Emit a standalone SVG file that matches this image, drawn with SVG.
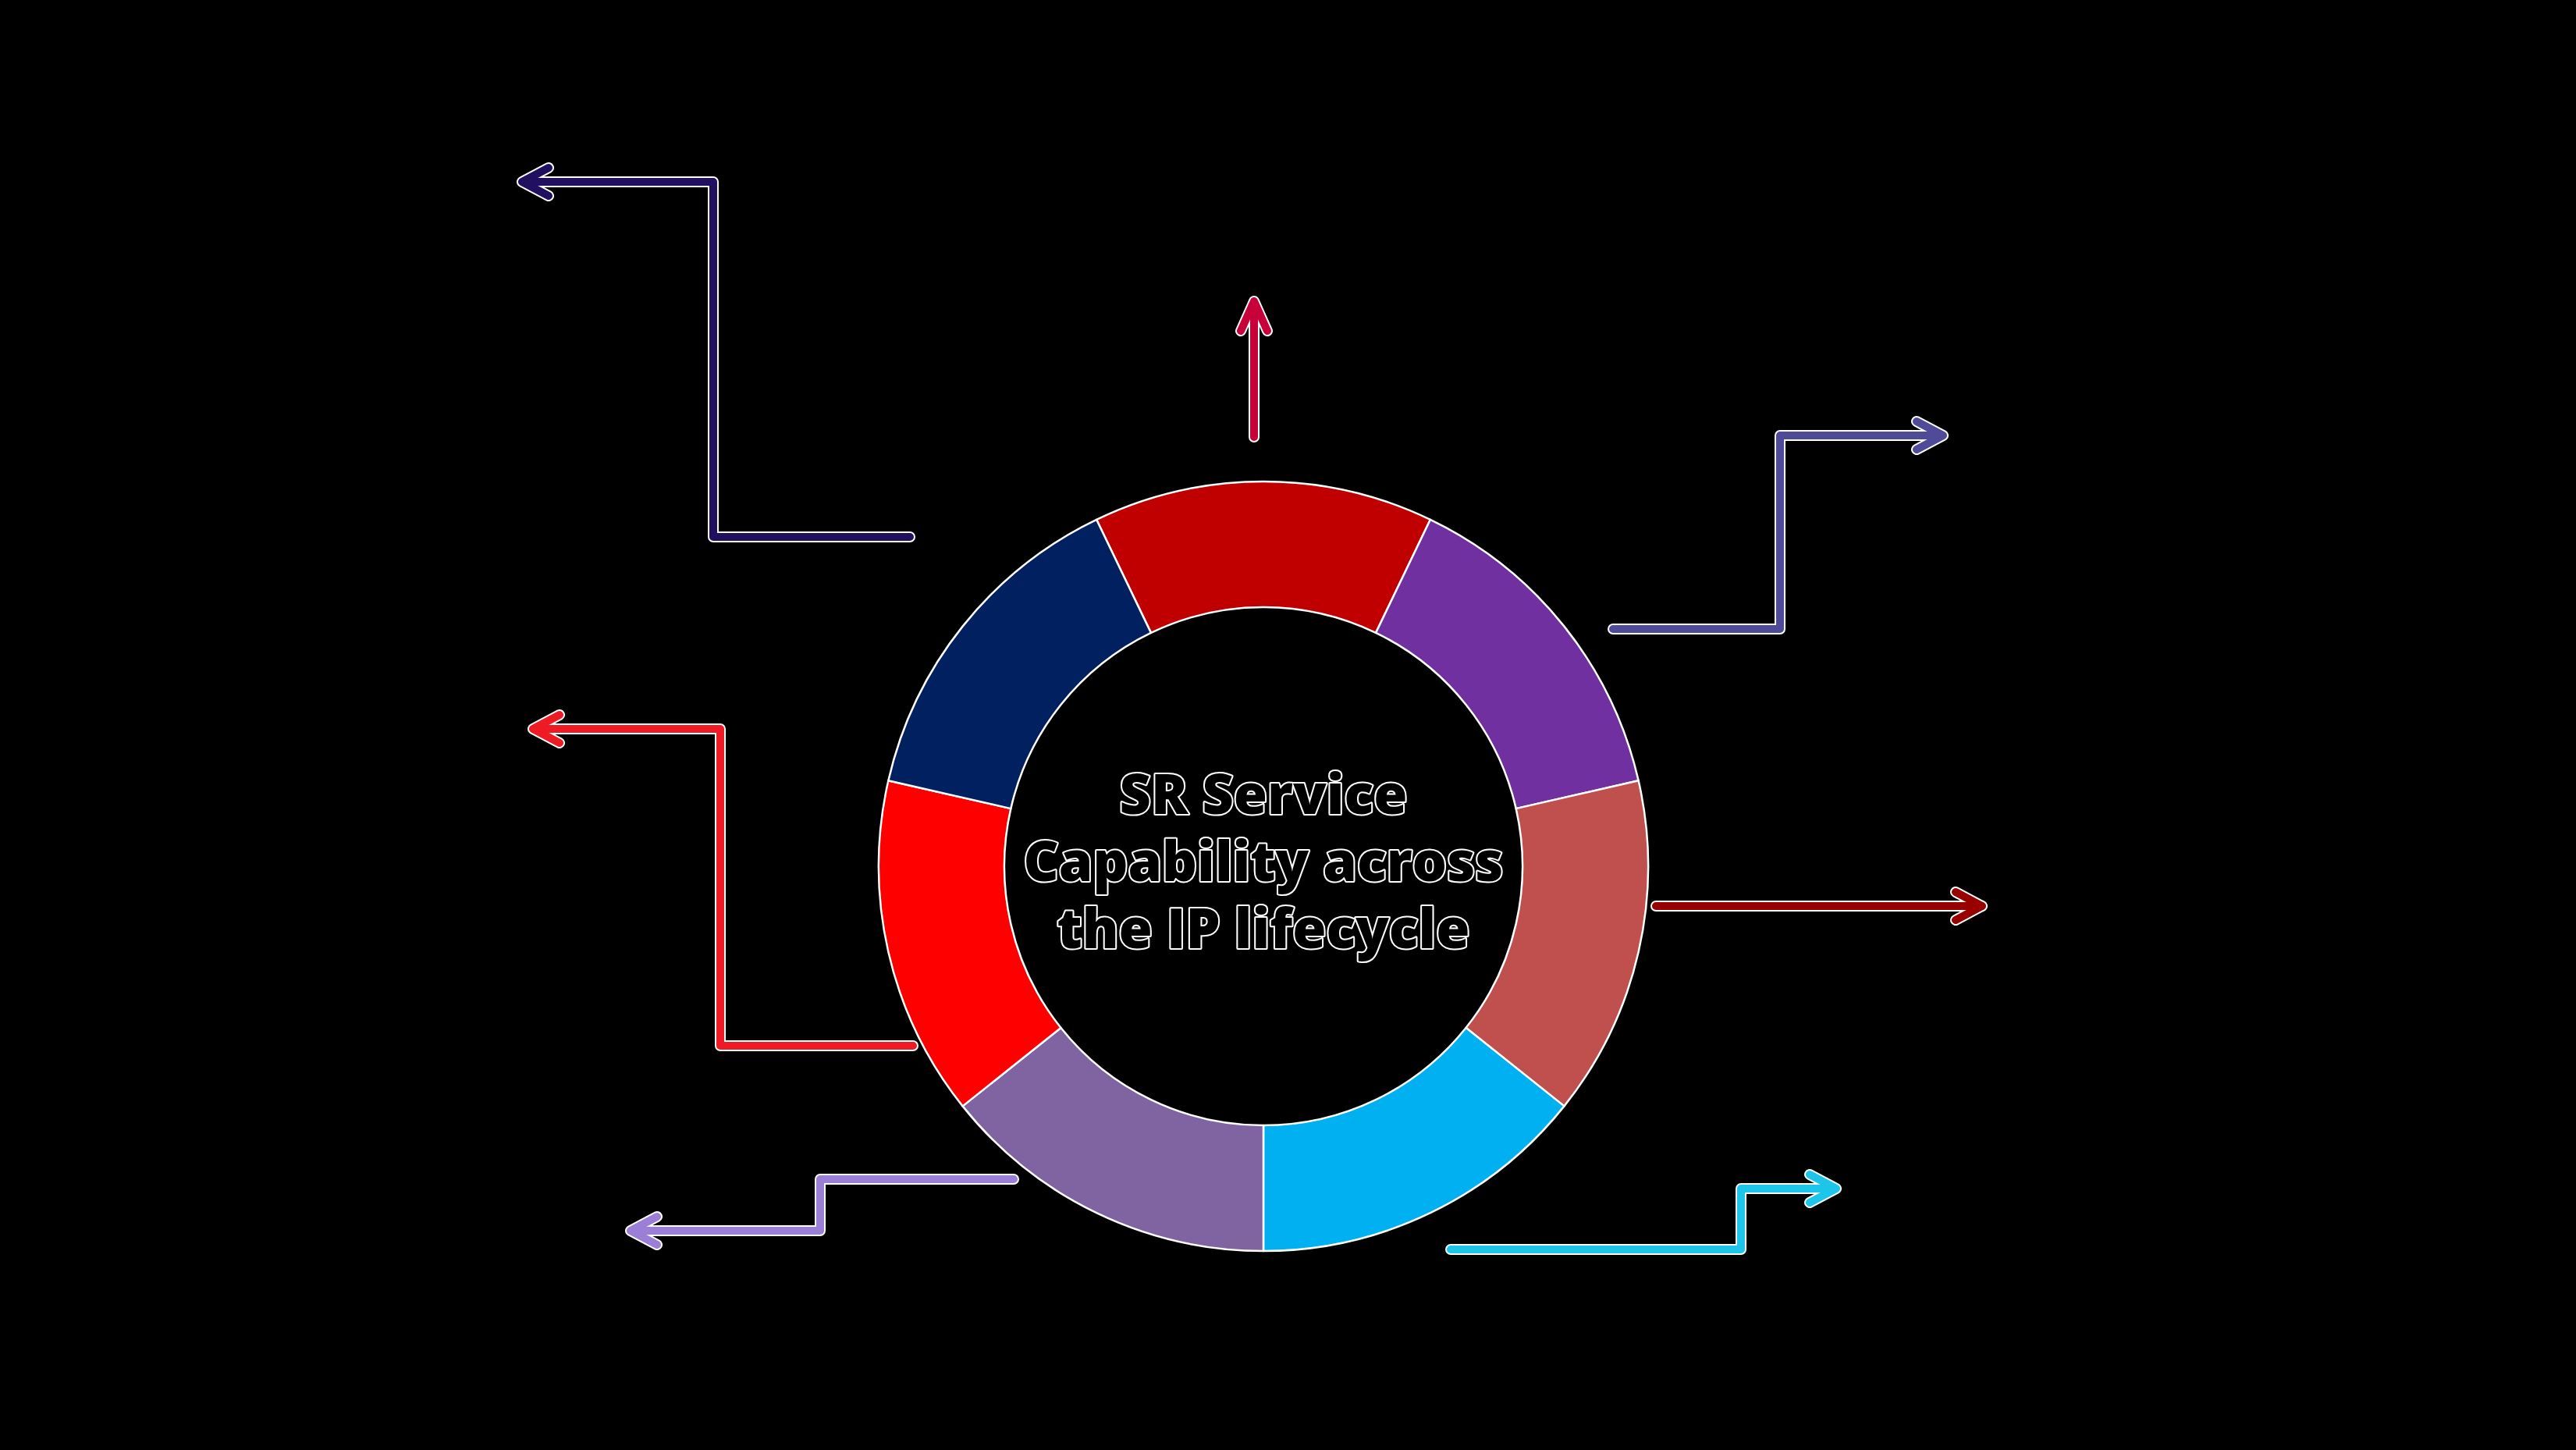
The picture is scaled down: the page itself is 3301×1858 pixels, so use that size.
<svg xmlns="http://www.w3.org/2000/svg" width="3301" height="1858" viewBox="0 0 3301 1858">
<style>
.seg{stroke:#ffffff;stroke-width:2.5;stroke-linejoin:round}
.halo{fill:none;stroke:#ffffff;stroke-width:14;stroke-linejoin:round;stroke-linecap:round}
.ln{fill:none;stroke-width:10;stroke-linejoin:round;stroke-linecap:round}
.title{font-family:"Open Sans","Noto Sans","Liberation Sans",sans-serif;font-weight:800;font-size:70px;fill:#000000;stroke:#ffffff;stroke-width:4;paint-order:stroke;stroke-linejoin:round;text-anchor:middle}
</style>
<rect x="0" y="0" width="3301" height="1858" fill="#000000"/>
<g id="ring">
<g id="seg-top"><path class="seg" fill="#C00000" d="M1405.10,665.82 A493,493 0 0 1 1832.90,665.82 L1763.05,810.88 A332,332 0 0 0 1474.95,810.88 Z"/></g>
<g id="seg-purple"><path class="seg" fill="#7030A0" d="M1832.90,665.82 A493,493 0 0 1 2099.64,1000.30 L1942.68,1036.12 A332,332 0 0 0 1763.05,810.88 Z"/></g>
<g id="seg-rose"><path class="seg" fill="#C0504D" d="M2099.64,1000.30 A493,493 0 0 1 2004.44,1417.38 L1878.57,1317.00 A332,332 0 0 0 1942.68,1036.12 Z"/></g>
<g id="seg-cyan"><path class="seg" fill="#00B0F0" d="M2004.44,1417.38 A493,493 0 0 1 1619,1603 L1619,1442 A332,332 0 0 0 1878.57,1317.00 Z"/></g>
<g id="seg-lavender"><path class="seg" fill="#8064A2" d="M1619,1603 A493,493 0 0 1 1233.56,1417.38 L1359.43,1317.00 A332,332 0 0 0 1619,1442 Z"/></g>
<g id="seg-red"><path class="seg" fill="#FF0000" d="M1233.56,1417.38 A493,493 0 0 1 1138.36,1000.30 L1295.32,1036.12 A332,332 0 0 0 1359.43,1317.00 Z"/></g>
<g id="seg-navy"><path class="seg" fill="#002060" d="M1138.36,1000.30 A493,493 0 0 1 1405.10,665.82 L1474.95,810.88 A332,332 0 0 0 1295.32,1036.12 Z"/></g>
</g>
<g id="center-label">
<text class="title" x="1619" y="1043">SR Service</text>
<text class="title" x="1619" y="1129">Capability across</text>
<text class="title" x="1619" y="1215">the IP lifecycle</text>
</g>
<g id="connectors">
<g id="c1">
<path class="halo" d="M1166,688 H914 V233 H669 M703,215 L669,233 L703,251"/>
<path class="ln" stroke="#20105F" d="M1166,688 H914 V233 H669 M703,215 L669,233 L703,251"/>
</g>
<g id="c2">
<path class="halo" d="M1607,560 V386 M1590,424 L1607,386 L1624,424"/>
<path class="ln" stroke="#C8003A" d="M1607,560 V386 M1590,424 L1607,386 L1624,424"/>
</g>
<g id="c3">
<path class="halo" d="M2067,806 H2281 V558 H2490 M2456,540 L2490,558 L2456,576"/>
<path class="ln" stroke="#4F4B98" d="M2067,806 H2281 V558 H2490 M2456,540 L2490,558 L2456,576"/>
</g>
<g id="c4">
<path class="halo" d="M2122,1161 H2540 M2506,1143 L2540,1161 L2506,1179"/>
<path class="ln" stroke="#990000" d="M2122,1161 H2540 M2506,1143 L2540,1161 L2506,1179"/>
</g>
<g id="c5">
<path class="halo" d="M1170,1340 H923 V934 H683 M717,916 L683,934 L717,952"/>
<path class="ln" stroke="#EE1B24" d="M1170,1340 H923 V934 H683 M717,916 L683,934 L717,952"/>
</g>
<g id="c6">
<path class="halo" d="M1299,1511 H1051 V1577 H808 M842,1559 L808,1577 L842,1595"/>
<path class="ln" stroke="#9B7ED6" d="M1299,1511 H1051 V1577 H808 M842,1559 L808,1577 L842,1595"/>
</g>
<g id="c7">
<path class="halo" d="M1859,1601 H2231 V1523 H2353 M2319,1505 L2353,1523 L2319,1541"/>
<path class="ln" stroke="#1DC5E8" d="M1859,1601 H2231 V1523 H2353 M2319,1505 L2353,1523 L2319,1541"/>
</g>
</g>
</svg>
